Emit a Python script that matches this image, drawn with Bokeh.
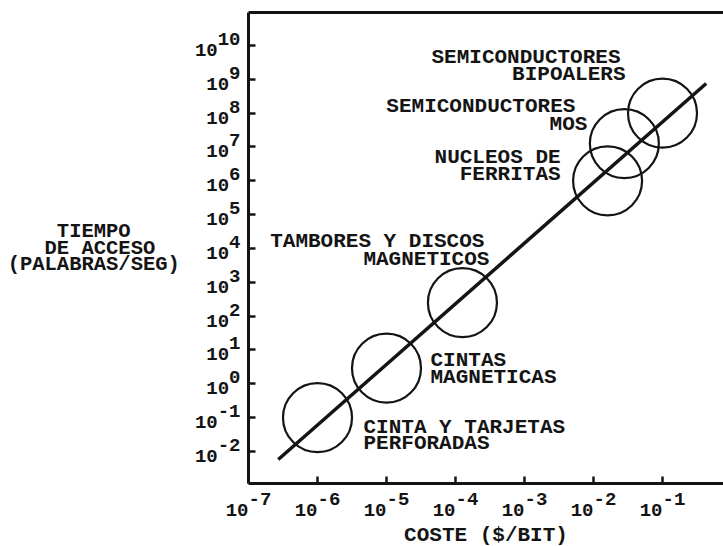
from bokeh.plotting import figure
from bokeh.models import ColumnDataSource, FixedTicker, LogAxis, Range1d
from bokeh.core.properties import value
from bokeh.embed import file_html
from bokeh.resources import INLINE

# ---------------- data ----------------
label_line1 = ["CINTA Y TARJETAS", "CINTAS", "TAMBORES Y DISCOS",
               "NUCLEOS DE", "SEMICONDUCTORES", "SEMICONDUCTORES"]
label_line2 = ["PERFORADAS", "MAGNETICAS", "MAGNETICOS",
               "FERRITAS", "MOS", "BIPOALERS"]
cost = [1.0e-6, 1.0e-5, 1.26e-4, 1.6e-2, 2.8e-2, 1.0e-1]          # $/bit
access_time = [1.0e-1, 2.9, 2.5e2, 1.0e6, 1.26e7, 1.0e8]         # palabras/seg
trend_cost = [2.7e-7, 4.3e-1]
trend_time = [5.8e-3, 7.5e8]
x_tick_exponents = [-7, -6, -5, -4, -3, -2, -1]
y_tick_exponents = [-2, -1, 0, 1, 2, 3, 4, 5, 6, 7, 8, 9, 10]
x_title = "COSTE ($/BIT)"
y_title_lines = ["TIEMPO", "DE ACCESO", "(PALABRAS/SEG)"]

# ---------------- layout / style ----------------
INK = "#141414"
FONT = "Liberation Mono"
NB = "\u00a0"
W, H = 723, 546
PX_X, PX_Y = 69.0, 33.83            # pixels per decade
X_MIN, X_MAX = 1e-7, 10 ** -0.116   # extent of the drawn frame lines
Y_LO, Y_MAX = 10 ** -2.946, 10 ** 10.975
FRAME_LEFT, FRAME_TOP, FRAME_BOTTOM = 248, 12, 483
XR = (10 ** (-7 - FRAME_LEFT / PX_X), X_MAX)
YR = (10 ** (-2.946 - (H - FRAME_BOTTOM) / PX_Y), 10 ** (10.975 + FRAME_TOP / PX_Y))
line1_align = ["left", "left", "right", "right", "right", "right"]
line1_dx = [46, 44, 22, -47, -49, -42]
line1_dy = [9.5, -8, -61.5, -23, -37, -55.5]
line2_dx = [46, 44, 27, -47, -37, -37]
line2_dy = [25.5, 9.5, -43.5, -6.5, -19.5, -38.5]

p = figure(width=W, height=H, x_axis_type="log", y_axis_type="log",
           x_range=Range1d(*XR), y_range=Range1d(*YR),
           output_backend="svg", toolbar_location=None,
           min_border_left=0, min_border_right=0,
           min_border_top=0, min_border_bottom=0)
p.grid.visible = False
p.outline_line_color = None

x_ticks = [10.0 ** e for e in x_tick_exponents]
y_ticks = [10.0 ** e for e in y_tick_exponents]


def x_label(e):
    s = str(e)
    w = max(len(s), 2)
    return NB * w + s.ljust(w, NB) + "\n" + "10" + NB * w


def y_label(e):
    s = str(e)
    return NB * 2 + s + "\n" + "10" + NB * len(s)


def centered_block(lines):
    w = max(len(l) for l in lines)
    out = []
    for l in lines:
        extra = w - len(l)
        left = (extra + 1) // 2
        out.append(NB * left + l + NB * (extra - left))
    return "\n".join(out)


xa = p.xaxis[0]
ya = p.yaxis[0]
xa.ticker = FixedTicker(ticks=x_ticks)
ya.ticker = FixedTicker(ticks=y_ticks)
xa.fixed_location = Y_LO
ya.fixed_location = X_MIN
xa.bounds = (X_MIN, X_MAX)
ya.bounds = (Y_LO, Y_MAX)
xa.major_label_overrides = {t: x_label(e) for t, e in zip(x_ticks, x_tick_exponents)}
ya.major_label_overrides = {t: y_label(e) for t, e in zip(y_ticks, y_tick_exponents)}
for ax in (xa, ya):
    ax.axis_line_width = 3
    ax.axis_line_color = INK
    ax.major_tick_in = 7
    ax.major_tick_out = 0
    ax.major_tick_line_width = 2.5
    ax.major_tick_line_color = INK
    ax.minor_tick_line_color = None
    ax.major_label_text_font = FONT
    ax.major_label_text_font_style = "bold"
    ax.major_label_text_font_size = "19px"
    ax.major_label_text_color = INK
    ax.major_label_text_line_height = 0.5
    ax.axis_label_text_font = FONT
    ax.axis_label_text_font_style = "bold"
    ax.axis_label_text_color = INK
xa.major_label_standoff = 6
ya.major_label_standoff = 8

xa.axis_label = x_title
xa.axis_label_text_font_size = "21px"
xa.axis_label_standoff = -2

ya.axis_label = centered_block(y_title_lines)
ya.axis_label_text_font_size = "20.5px"
ya.axis_label_text_line_height = 0.72
ya.axis_label_standoff = 12
if "axis_label_orientation" in ya.properties():
    ya.axis_label_orientation = "horizontal"

top = LogAxis(ticker=FixedTicker(ticks=[]), axis_line_width=3, axis_line_color=INK,
              major_tick_line_color=None, minor_tick_line_color=None,
              major_label_text_font_size="0px",
              fixed_location=Y_MAX, bounds=(X_MIN, X_MAX))
p.add_layout(top, "above")

# trend line and circles
p.line(trend_cost, trend_time, line_width=3.5, line_color=INK)
p.scatter(cost, access_time, marker="circle", size=69, fill_color=None,
          line_color=INK, line_width=2.2)

# technology labels
for align in ("left", "right"):
    idx = [i for i, a in enumerate(line1_align) if a == align]
    src = ColumnDataSource(dict(
        x=[cost[i] for i in idx] * 2,
        y=[access_time[i] for i in idx] * 2,
        text=[label_line1[i] for i in idx] + [label_line2[i] for i in idx],
        dx=[line1_dx[i] for i in idx] + [line2_dx[i] for i in idx],
        dy=[line1_dy[i] for i in idx] + [line2_dy[i] for i in idx],
    ))
    p.text(x="x", y="y", text="text", source=src, x_offset="dx", y_offset="dy",
           text_align=align, text_baseline="middle", text_font=value(FONT),
           text_font_style="bold", text_font_size="21px", text_color=INK)

open("out.html", "w").write(file_html(p, INLINE))
